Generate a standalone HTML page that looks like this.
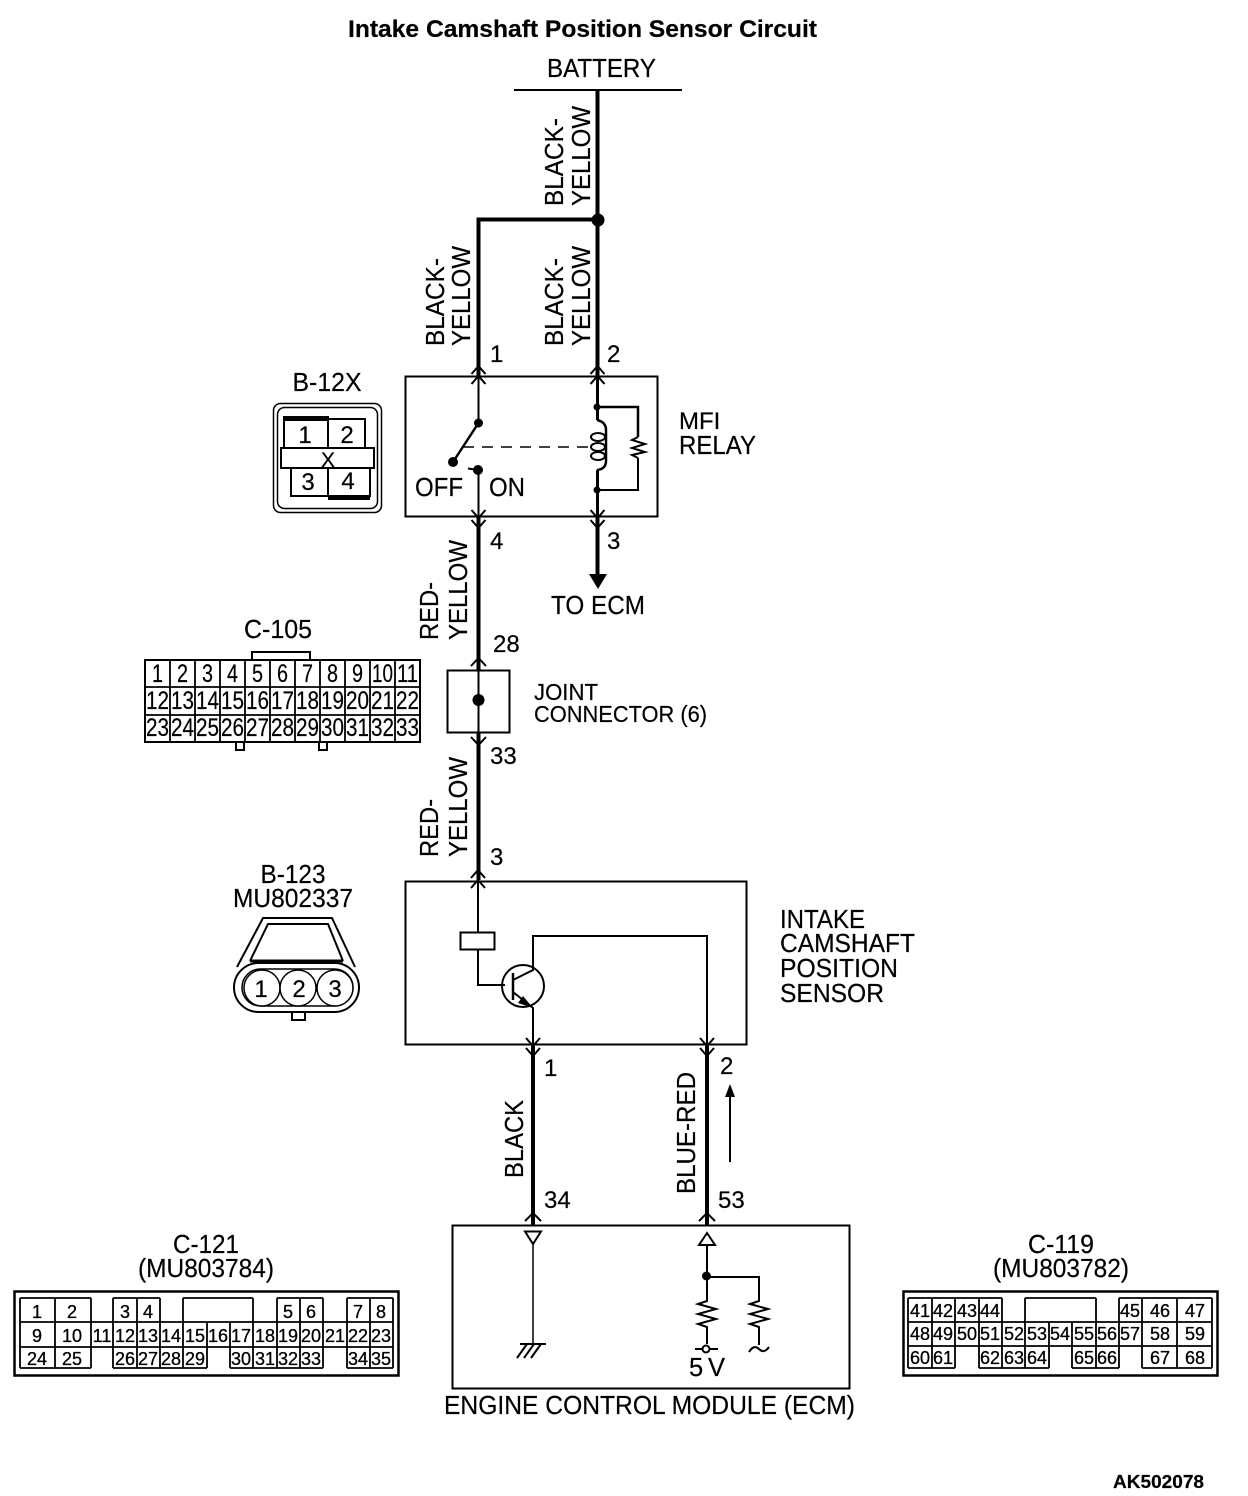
<!DOCTYPE html>
<html><head><meta charset="utf-8"><style>
html,body{margin:0;padding:0;background:#fff}
svg{display:block}
text{font-family:"Liberation Sans",sans-serif;fill:#000;font-size:24px;stroke:#000;stroke-width:.2px}
text[textLength]{font-size:25.5px}
.m{text-anchor:middle}
.a text{font-size:25px;text-anchor:middle}
.b text{font-size:18px;text-anchor:middle;stroke:#000;stroke-width:.3px}
.l{fill:none;stroke:#000;stroke-width:2}
.t{fill:none;stroke:#000;stroke-width:1.5}
.g{fill:none;stroke:#000;stroke-width:1.8}
.w{fill:none;stroke:#000;stroke-width:4}
.c{fill:none;stroke:#000;stroke-width:2}
</style></head><body>
<svg width="1248" height="1496" viewBox="0 0 1248 1496" xmlns="http://www.w3.org/2000/svg">
<rect width="1248" height="1496" fill="#fff"/>
<text x="348" y="37" textLength="469" lengthAdjust="spacingAndGlyphs" style="font-weight:bold;font-size:24px">Intake Camshaft Position Sensor Circuit</text>
<text x="547" y="77" textLength="109" lengthAdjust="spacingAndGlyphs">BATTERY</text>
<path class="l" d="M514 90H682"/>

<!-- upper wires -->
<path class="w" d="M597.500 90V376M478.500 376V219.500H597.500"/>
<circle cx="598" cy="220" r="6.500"/>

<!-- vertical labels -->
<g>
<text transform="translate(563,206) rotate(-90)" textLength="88" lengthAdjust="spacingAndGlyphs">BLACK-</text>
<text transform="translate(590,206) rotate(-90)" textLength="100" lengthAdjust="spacingAndGlyphs">YELLOW</text>
<text transform="translate(563,346) rotate(-90)" textLength="88" lengthAdjust="spacingAndGlyphs">BLACK-</text>
<text transform="translate(590,346) rotate(-90)" textLength="100" lengthAdjust="spacingAndGlyphs">YELLOW</text>
<text transform="translate(444,346) rotate(-90)" textLength="88" lengthAdjust="spacingAndGlyphs">BLACK-</text>
<text transform="translate(470,346) rotate(-90)" textLength="100" lengthAdjust="spacingAndGlyphs">YELLOW</text>
<text transform="translate(438,640) rotate(-90)" textLength="58" lengthAdjust="spacingAndGlyphs">RED-</text>
<text transform="translate(467,640) rotate(-90)" textLength="100" lengthAdjust="spacingAndGlyphs">YELLOW</text>
<text transform="translate(438,857) rotate(-90)" textLength="58" lengthAdjust="spacingAndGlyphs">RED-</text>
<text transform="translate(467,857) rotate(-90)" textLength="100" lengthAdjust="spacingAndGlyphs">YELLOW</text>
<text transform="translate(523,1178) rotate(-90)" textLength="78" lengthAdjust="spacingAndGlyphs">BLACK</text>
<text transform="translate(695,1194) rotate(-90)" textLength="122" lengthAdjust="spacingAndGlyphs">BLUE-RED</text>
</g>

<!-- pin numbers -->
<text x="490" y="362">1</text>
<text x="607" y="362">2</text>
<text x="490" y="549">4</text>
<text x="607" y="549">3</text>
<text x="493" y="652">28</text>
<text x="490" y="764">33</text>
<text x="490" y="865">3</text>
<text x="544" y="1076">1</text>
<text x="720" y="1074">2</text>
<text x="544" y="1208">34</text>
<text x="718" y="1208">53</text>

<!-- relay -->
<rect class="l" x="405.500" y="376.500" width="252" height="140"/>
<path class="c" d="M478.500 376V423M478.500 470V517"/>
<path class="c" d="M478.500 423L453 462" style="stroke-width:2.500"/>
<circle cx="478.500" cy="423" r="4.500"/><circle cx="453" cy="462" r="5"/><circle cx="478" cy="470" r="5"/>
<path class="c" d="M468 468.500L478 470"/>
<path class="t" stroke-dasharray="11 8" d="M463 447H590"/>
<path class="w" style="stroke-width:3" d="M597.500 376V420M597.500 470V517"/>
<path class="l" style="stroke-width:2.500" d="M597 407H638V437"/>
<path class="l" d="M638 458V490H597"/>
<path class="l" d="M638 437L632 440L645 444L632 448L645 452L632 455L638 458"/>
<circle cx="597" cy="407" r="3.500"/><circle cx="597" cy="490" r="3.500"/>
<path class="l" style="stroke-width:2.500" d="M597 420Q606 422 606 430V461Q606 469 597 470"/>
<ellipse class="l" cx="598" cy="437" rx="7" ry="4"/><ellipse class="l" cx="598" cy="447" rx="7" ry="4"/><ellipse class="l" cx="598" cy="456" rx="7" ry="4"/>
<text x="415" y="496" textLength="48" lengthAdjust="spacingAndGlyphs">OFF</text>
<text x="489" y="496" textLength="36" lengthAdjust="spacingAndGlyphs">ON</text>
<text x="679" y="429">MFI</text>
<text x="679" y="454" textLength="77" lengthAdjust="spacingAndGlyphs">RELAY</text>

<!-- chevrons -->
<path class="c" d="M471.500 374L478.500 366L485.500 374M471.500 384L478.500 376L485.500 384"/>
<path class="c" d="M590.500 374L597.500 366L604.500 374M590.500 384L597.500 376L604.500 384"/>
<path class="c" d="M471.500 510L478.500 518L485.500 510M471.500 520L478.500 528L485.500 520"/>
<path class="c" d="M590.500 510L597.500 518L604.500 510M590.500 520L597.500 528L604.500 520"/>
<path class="c" d="M471 666L478.500 658L486 666"/>
<path class="c" d="M471 737L478.500 745L486 737"/>
<path class="c" d="M471 878L478 870L485 878M471 888L478 880L485 888"/>
<path class="c" d="M526 1038L533 1046L540 1038M526 1048L533 1056L540 1048"/>
<path class="c" d="M700 1038L707 1046L714 1038M700 1048L707 1056L714 1048"/>
<path class="c" d="M525 1221L533 1213L541 1221"/>
<path class="c" d="M699 1221L707 1213L715 1221"/>

<!-- to ecm -->
<path class="w" d="M597.500 517V575"/>
<path d="M589 574H607L598 589Z"/>
<text x="551" y="614" textLength="94" lengthAdjust="spacingAndGlyphs">TO ECM</text>

<!-- lower wire -->
<path class="w" d="M478.500 517V670M478.500 732V880"/>
<rect class="l" x="447.500" y="670.500" width="62" height="62"/>
<path class="c" d="M478.500 670V732"/>
<circle cx="478.500" cy="700" r="6"/>
<text x="534" y="700" textLength="64" lengthAdjust="spacingAndGlyphs" style="font-size:23.500px">JOINT</text>
<text x="534" y="722" textLength="173" lengthAdjust="spacingAndGlyphs" style="font-size:23.500px">CONNECTOR (6)</text>

<!-- sensor -->
<rect class="l" x="405.500" y="881.500" width="341" height="163"/>
<rect class="l" x="460.500" y="932.500" width="34" height="17"/>
<path class="c" d="M478 881V932M478 949V985H505"/>
<circle class="c" cx="523" cy="986" r="21"/>
<path class="c" d="M513 973V1000" style="stroke-width:2.500"/>
<path class="c" d="M513 980L533 970V936H707V1046"/>
<path class="c" d="M513 992L533 1008V1046"/>
<path d="M523 996L533 1008L518 1003Z"/>
<path class="w" d="M533 1046V1225M707 1046V1225"/>
<path class="c" d="M730 1162V1090"/>
<path d="M725 1097L730 1084L735 1097Z"/>
<text x="780" y="928" textLength="85" lengthAdjust="spacingAndGlyphs">INTAKE</text>
<text x="780" y="952" textLength="135" lengthAdjust="spacingAndGlyphs">CAMSHAFT</text>
<text x="780" y="977" textLength="118" lengthAdjust="spacingAndGlyphs">POSITION</text>
<text x="780" y="1002" textLength="104" lengthAdjust="spacingAndGlyphs">SENSOR</text>

<!-- ECM -->
<rect class="l" x="452.500" y="1225.500" width="397" height="163"/>
<path class="c" d="M525 1231.500H541L533 1244Z"/>
<path class="t" d="M533 1244V1345"/>
<path class="c" d="M520 1344H546M517 1358L527 1344M524 1358L534 1344M531 1358L541 1344"/>
<path class="c" d="M699 1245H715L707 1233Z"/>
<path class="c" d="M707 1245V1301L698 1304L716 1309L698 1314L716 1319L698 1324L707 1327V1344"/>
<circle cx="706.500" cy="1276" r="4.500"/>
<path class="c" d="M707 1277H759V1301L750 1304L768 1309L750 1314L768 1319L750 1324L759 1327V1345"/>
<path class="c" d="M749 1352Q754 1344 759 1349T769 1347"/>
<circle class="c" cx="706" cy="1349" r="3.500"/>
<path class="c" d="M695 1349H702M710 1349H718"/>
<text x="689" y="1376" textLength="36" lengthAdjust="spacing">5 V</text>
<text x="444" y="1414" textLength="411" lengthAdjust="spacingAndGlyphs">ENGINE CONTROL MODULE (ECM)</text>

<!-- B-12X -->
<text x="327" y="391" class="m" textLength="69" lengthAdjust="spacingAndGlyphs">B-12X</text>
<rect class="t" x="273.500" y="403.500" width="108" height="109" rx="7"/>
<rect class="t" x="277.500" y="407.500" width="100" height="101" rx="7"/>
<path class="c" d="M284 448V419H365V448M328 419V448M291 468V496H370V468M328 468V496"/>
<rect class="c" x="281" y="448" width="93" height="20" fill="#fff"/>
<path d="M283 416H329V421H283ZM328 495H370V500H328Z"/>
<text x="305" y="443" class="m">1</text>
<text x="347" y="443" class="m">2</text>
<text x="308" y="490" class="m">3</text>
<text x="348" y="489" class="m">4</text>
<text x="328" y="467" class="m" style="font-size:21px">X</text>

<!-- B-123 -->
<text x="293" y="883" class="m" textLength="65" lengthAdjust="spacingAndGlyphs">B-123</text>
<text x="293" y="907" class="m" textLength="120" lengthAdjust="spacingAndGlyphs">MU802337</text>
<path class="c" d="M237 967L263 918H332L355 967"/>
<path class="c" d="M250 961L268 924H328L343 961"/>
<path class="c" style="stroke-width:3" d="M250 961H343"/>
<rect class="l" x="234" y="963" width="125" height="49" rx="24.500"/>
<rect class="t" x="242" y="969" width="111" height="37" rx="18.500"/>
<circle cx="262" cy="988" r="18" fill="#fff" stroke="#000" stroke-width="1.500"/>
<circle cx="298" cy="988" r="18" fill="#fff" stroke="#000" stroke-width="1.500"/>
<circle cx="335" cy="988" r="18" fill="#fff" stroke="#000" stroke-width="1.500"/>
<text x="261" y="997" class="m">1</text>
<text x="299" y="997" class="m">2</text>
<text x="335" y="997" class="m">3</text>
<rect class="l" x="292" y="1012" width="13" height="8"/>

<!-- C-105 -->
<text x="278" y="638" class="m" textLength="68" lengthAdjust="spacingAndGlyphs">C-105</text>
<path class="l" d="M252 660V652H310V660"/>
<path class="l" d="M236 742V750H244V742M319 742V750H327V742"/>
<rect class="l" x="145" y="660" width="275" height="82"/>
<path class="g" d="M145 687H420M145 715H420M170 660V742M195 660V742M220 660V742M245 660V742M270 660V742M295 660V742M320 660V742M345 660V742M370 660V742M395 660V742"/>
<g class="a">
<text x="157.500" y="682" textLength="11" lengthAdjust="spacingAndGlyphs">1</text><text x="182.500" y="682" textLength="11" lengthAdjust="spacingAndGlyphs">2</text><text x="207.500" y="682" textLength="11" lengthAdjust="spacingAndGlyphs">3</text><text x="232.500" y="682" textLength="11" lengthAdjust="spacingAndGlyphs">4</text><text x="257.500" y="682" textLength="11" lengthAdjust="spacingAndGlyphs">5</text><text x="282.500" y="682" textLength="11" lengthAdjust="spacingAndGlyphs">6</text><text x="307.500" y="682" textLength="11" lengthAdjust="spacingAndGlyphs">7</text><text x="332.500" y="682" textLength="11" lengthAdjust="spacingAndGlyphs">8</text><text x="357.500" y="682" textLength="11" lengthAdjust="spacingAndGlyphs">9</text><text x="382.500" y="682" textLength="21" lengthAdjust="spacingAndGlyphs">10</text><text x="407.500" y="682" textLength="21" lengthAdjust="spacingAndGlyphs">11</text>
<text x="157.500" y="709" textLength="23" lengthAdjust="spacingAndGlyphs">12</text><text x="182.500" y="709" textLength="23" lengthAdjust="spacingAndGlyphs">13</text><text x="207.500" y="709" textLength="23" lengthAdjust="spacingAndGlyphs">14</text><text x="232.500" y="709" textLength="23" lengthAdjust="spacingAndGlyphs">15</text><text x="257.500" y="709" textLength="23" lengthAdjust="spacingAndGlyphs">16</text><text x="282.500" y="709" textLength="23" lengthAdjust="spacingAndGlyphs">17</text><text x="307.500" y="709" textLength="23" lengthAdjust="spacingAndGlyphs">18</text><text x="332.500" y="709" textLength="23" lengthAdjust="spacingAndGlyphs">19</text><text x="357.500" y="709" textLength="23" lengthAdjust="spacingAndGlyphs">20</text><text x="382.500" y="709" textLength="23" lengthAdjust="spacingAndGlyphs">21</text><text x="407.500" y="709" textLength="23" lengthAdjust="spacingAndGlyphs">22</text>
<text x="157.500" y="736" textLength="23" lengthAdjust="spacingAndGlyphs">23</text><text x="182.500" y="736" textLength="23" lengthAdjust="spacingAndGlyphs">24</text><text x="207.500" y="736" textLength="23" lengthAdjust="spacingAndGlyphs">25</text><text x="232.500" y="736" textLength="23" lengthAdjust="spacingAndGlyphs">26</text><text x="257.500" y="736" textLength="23" lengthAdjust="spacingAndGlyphs">27</text><text x="282.500" y="736" textLength="23" lengthAdjust="spacingAndGlyphs">28</text><text x="307.500" y="736" textLength="23" lengthAdjust="spacingAndGlyphs">29</text><text x="332.500" y="736" textLength="23" lengthAdjust="spacingAndGlyphs">30</text><text x="357.500" y="736" textLength="23" lengthAdjust="spacingAndGlyphs">31</text><text x="382.500" y="736" textLength="23" lengthAdjust="spacingAndGlyphs">32</text><text x="407.500" y="736" textLength="23" lengthAdjust="spacingAndGlyphs">33</text>
</g>

<!-- C-121 -->
<text x="206" y="1253" class="m" textLength="66" lengthAdjust="spacingAndGlyphs">C-121</text>
<text x="206" y="1277" class="m" textLength="136" lengthAdjust="spacingAndGlyphs">(MU803784)</text>
<rect class="l" x="14.500" y="1291.500" width="384" height="84" style="stroke-width:2.500"/>
<path class="g" d="M20 1298H91M113 1298H160M183 1298H253M277 1298H323M347 1298H393M20 1322H393M20 1347H393M20 1368H91M113 1368H207M230 1368H323M347 1368H393"/>
<path class="g" d="M20 1298V1368M55 1298V1368M91 1298V1368M113 1298V1368M137 1298V1368M160 1298V1368M183 1298V1368M253 1298V1368M277 1298V1368M300 1298V1368M323 1298V1368M347 1298V1368M370 1298V1368M393 1298V1368M207 1322V1368M230 1322V1368"/>
<g class="b">
<text x="37" y="1318">1</text><text x="72" y="1318">2</text><text x="125" y="1318">3</text><text x="148" y="1318">4</text><text x="288" y="1318">5</text><text x="311" y="1318">6</text><text x="358" y="1318">7</text><text x="381" y="1318">8</text>
<text x="37" y="1342">9</text><text x="72" y="1342">10</text><text x="102" y="1342">11</text><text x="125" y="1342">12</text><text x="148" y="1342">13</text><text x="171" y="1342">14</text><text x="195" y="1342">15</text><text x="218" y="1342">16</text><text x="241" y="1342">17</text><text x="265" y="1342">18</text><text x="288" y="1342">19</text><text x="311" y="1342">20</text><text x="335" y="1342">21</text><text x="358" y="1342">22</text><text x="381" y="1342">23</text>
<text x="37" y="1365">24</text><text x="72" y="1365">25</text><text x="125" y="1365">26</text><text x="148" y="1365">27</text><text x="171" y="1365">28</text><text x="195" y="1365">29</text><text x="241" y="1365">30</text><text x="265" y="1365">31</text><text x="288" y="1365">32</text><text x="311" y="1365">33</text><text x="358" y="1365">34</text><text x="381" y="1365">35</text>
</g>

<!-- C-119 -->
<text x="1061" y="1253" class="m" textLength="66" lengthAdjust="spacingAndGlyphs">C-119</text>
<text x="1061" y="1277" class="m" textLength="136" lengthAdjust="spacingAndGlyphs">(MU803782)</text>
<rect class="l" x="903.500" y="1291.500" width="314" height="84" style="stroke-width:2.500"/>
<path class="g" d="M908 1298H1002M1025 1298H1096M1119 1298H1212M908 1322H1212M908 1346H1212M908 1368H955M979 1368H1049M1072 1368H1119M1142 1368H1212"/>
<path class="g" d="M908 1298V1368M932 1298V1368M955 1298V1368M979 1298V1368M1002 1298V1368M1025 1298V1368M1096 1298V1368M1119 1298V1368M1142 1298V1368M1177 1298V1368M1212 1298V1368M1049 1322V1368M1072 1322V1368"/>
<g class="b">
<text x="920" y="1317">41</text><text x="943" y="1317">42</text><text x="967" y="1317">43</text><text x="990" y="1317">44</text><text x="1130" y="1317">45</text><text x="1160" y="1317">46</text><text x="1195" y="1317">47</text>
<text x="920" y="1340">48</text><text x="943" y="1340">49</text><text x="967" y="1340">50</text><text x="990" y="1340">51</text><text x="1014" y="1340">52</text><text x="1037" y="1340">53</text><text x="1060" y="1340">54</text><text x="1084" y="1340">55</text><text x="1107" y="1340">56</text><text x="1130" y="1340">57</text><text x="1160" y="1340">58</text><text x="1195" y="1340">59</text>
<text x="920" y="1364">60</text><text x="943" y="1364">61</text><text x="990" y="1364">62</text><text x="1014" y="1364">63</text><text x="1037" y="1364">64</text><text x="1084" y="1364">65</text><text x="1107" y="1364">66</text><text x="1160" y="1364">67</text><text x="1195" y="1364">68</text>
</g>

<text x="1113" y="1488" style="font-weight:bold;font-size:18px" textLength="91" lengthAdjust="spacingAndGlyphs">AK502078</text>
</svg>
</body></html>
